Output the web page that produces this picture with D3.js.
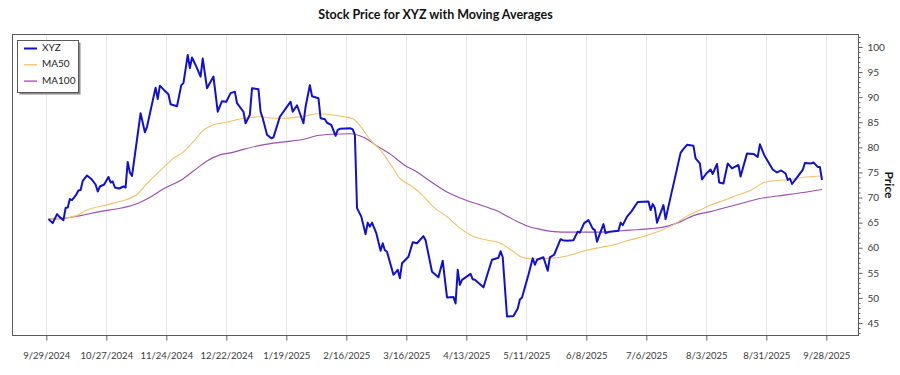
<!DOCTYPE html>
<html>
<head>
<meta charset="utf-8">
<script src="https://cdn.jsdelivr.net/npm/d3@7"></script>
<style>
  html, body { margin: 0; padding: 0; background: #fff; }
  svg { display: block; font-family: Lato, "Open Sans", "Noto Sans", sans-serif; }
</style>
</head>
<body>
<svg id="chart" width="900" height="375"></svg>
<script>
// ---------------- DATA ----------------
const title = "Stock Price for XYZ with Moving Averages";
const yAxisLabel = "Price";
const seriesNames = ["XYZ", "MA50", "MA100"];

const priceDates = ["2024-09-30","2024-10-02","2024-10-04","2024-10-05","2024-10-07","2024-10-08","2024-10-09","2024-10-10","2024-10-11","2024-10-13","2024-10-14","2024-10-15","2024-10-16","2024-10-18","2024-10-20","2024-10-22","2024-10-23","2024-10-24","2024-10-26","2024-10-28","2024-10-29","2024-10-30","2024-10-31","2024-11-02","2024-11-04","2024-11-05","2024-11-06","2024-11-07","2024-11-08","2024-11-12","2024-11-14","2024-11-15","2024-11-19","2024-11-20","2024-11-21","2024-11-23","2024-11-25","2024-11-26","2024-11-29","2024-12-01","2024-12-02","2024-12-04","2024-12-05","2024-12-06","2024-12-08","2024-12-10","2024-12-11","2024-12-13","2024-12-16","2024-12-18","2024-12-20","2024-12-22","2024-12-24","2024-12-26","2024-12-27","2024-12-30","2024-12-31","2025-01-02","2025-01-03","2025-01-06","2025-01-07","2025-01-08","2025-01-10","2025-01-12","2025-01-13","2025-01-16","2025-01-21","2025-01-22","2025-01-24","2025-01-27","2025-01-28","2025-01-30","2025-01-31","2025-02-03","2025-02-04","2025-02-06","2025-02-07","2025-02-09","2025-02-11","2025-02-12","2025-02-13","2025-02-18","2025-02-19","2025-02-20","2025-02-21","2025-02-23","2025-02-25","2025-02-26","2025-02-27","2025-02-28","2025-03-02","2025-03-04","2025-03-05","2025-03-06","2025-03-07","2025-03-10","2025-03-12","2025-03-13","2025-03-14","2025-03-17","2025-03-19","2025-03-21","2025-03-24","2025-03-25","2025-03-28","2025-03-31","2025-04-02","2025-04-04","2025-04-07","2025-04-08","2025-04-09","2025-04-10","2025-04-11","2025-04-15","2025-04-16","2025-04-17","2025-04-21","2025-04-23","2025-04-25","2025-04-28","2025-04-29","2025-04-30","2025-05-02","2025-05-05","2025-05-07","2025-05-08","2025-05-09","2025-05-12","2025-05-14","2025-05-15","2025-05-16","2025-05-19","2025-05-21","2025-05-22","2025-05-24","2025-05-27","2025-05-28","2025-05-30","2025-06-02","2025-06-04","2025-06-05","2025-06-07","2025-06-09","2025-06-11","2025-06-12","2025-06-13","2025-06-16","2025-06-17","2025-06-19","2025-06-23","2025-06-24","2025-06-25","2025-06-27","2025-06-29","2025-07-02","2025-07-07","2025-07-08","2025-07-09","2025-07-10","2025-07-11","2025-07-14","2025-07-15","2025-07-22","2025-07-23","2025-07-25","2025-07-28","2025-07-29","2025-07-31","2025-08-01","2025-08-03","2025-08-05","2025-08-06","2025-08-08","2025-08-09","2025-08-11","2025-08-13","2025-08-15","2025-08-18","2025-08-19","2025-08-22","2025-08-25","2025-08-27","2025-08-28","2025-08-30","2025-09-03","2025-09-05","2025-09-07","2025-09-09","2025-09-10","2025-09-11","2025-09-12","2025-09-14","2025-09-17","2025-09-18","2025-09-21","2025-09-22","2025-09-24","2025-09-25","2025-09-26"];
const priceValues = [65.7,64.9,66.7,66.2,65.5,67.9,68.0,69.7,69.5,70.6,71.4,71.5,73.3,74.4,73.7,72.6,71.2,72.2,72.6,74.1,73.0,73.2,72.0,71.8,72.2,72.0,77.1,75.0,74.3,86.8,83.0,84.1,91.9,89.6,92.3,91.4,90.6,88.6,88.2,92.4,92.8,98.4,95.8,97.9,96.1,94.1,97.7,91.8,94.1,87.1,89.2,89.1,90.8,91.1,88.8,87.1,84.8,86.5,91.8,91.6,87.1,85.8,82.5,81.8,82.0,86.1,89.1,87.1,88.4,84.8,88.1,92.4,90.2,89.8,85.8,85.6,84.9,84.5,82.3,83.5,83.7,83.8,83.6,82.5,67.9,66.2,62.7,65.0,64.2,65.0,62.9,59.4,60.9,59.5,59.2,54.6,55.6,53.9,56.9,58.2,61.1,60.9,62.3,61.5,55.2,54.1,57.4,50.1,50.2,48.9,55.6,52.6,53.6,54.8,53.7,53.6,52.1,54.9,57.6,58.0,59.3,58.1,46.3,46.4,47.9,49.7,50.1,54.6,57.9,56.6,57.6,58.1,55.4,58.1,58.6,61.7,61.5,61.4,61.5,63.2,63.0,64.9,65.5,63.8,63.5,61.2,64.7,62.9,63.2,63.4,65.0,64.5,66.2,67.2,69.1,69.2,67.5,68.7,67.9,65.0,68.5,65.7,78.9,79.5,80.5,80.3,77.8,76.8,73.6,74.8,75.6,74.7,76.7,73.0,72.8,76.8,75.8,76.5,74.2,78.8,78.7,78.1,80.6,78.5,75.6,75.0,75.4,74.8,73.5,73.8,72.7,73.8,75.5,76.9,76.8,77.0,76.1,76.1,73.5];

const ma50Dates = ["2024-09-30","2024-10-08","2024-10-13","2024-10-18","2024-10-27","2024-11-03","2024-11-10","2024-11-15","2024-11-23","2024-11-27","2024-12-02","2024-12-07","2024-12-11","2024-12-16","2024-12-22","2024-12-29","2025-01-07","2025-01-13","2025-01-19","2025-01-27","2025-02-03","2025-02-09","2025-02-15","2025-02-19","2025-02-23","2025-02-27","2025-03-04","2025-03-09","2025-03-13","2025-03-18","2025-03-23","2025-03-29","2025-04-04","2025-04-10","2025-04-16","2025-04-23","2025-04-29","2025-05-05","2025-05-09","2025-05-13","2025-05-18","2025-05-22","2025-05-27","2025-06-02","2025-06-08","2025-06-15","2025-06-21","2025-06-27","2025-07-05","2025-07-13","2025-07-20","2025-07-25","2025-07-31","2025-08-05","2025-08-11","2025-08-17","2025-08-24","2025-08-30","2025-09-05","2025-09-11","2025-09-17","2025-09-26"];
const ma50Values = [65.7,65.9,66.4,67.5,68.5,69.3,70.5,72.8,76.1,77.7,79.1,81.3,83.3,84.5,85.0,85.7,86.1,85.8,85.8,86.2,86.7,86.5,86.1,85.7,84.0,81.6,79.4,76.4,73.8,72.4,70.7,68.0,66.2,63.9,62.3,61.5,60.9,59.2,58.1,57.8,57.8,57.9,58.1,58.7,59.5,60.1,60.6,61.4,62.3,63.5,64.9,66.3,67.5,68.5,69.4,70.4,71.5,73.0,73.4,73.6,74.0,74.3];

const ma100Dates = ["2024-09-30","2024-10-08","2024-10-15","2024-10-24","2024-11-03","2024-11-10","2024-11-17","2024-11-23","2024-12-01","2024-12-07","2024-12-13","2024-12-19","2024-12-24","2024-12-30","2025-01-08","2025-01-18","2025-01-27","2025-02-02","2025-02-09","2025-02-18","2025-02-24","2025-03-02","2025-03-09","2025-03-15","2025-03-21","2025-03-27","2025-04-04","2025-04-12","2025-04-19","2025-04-27","2025-05-05","2025-05-11","2025-05-17","2025-05-24","2025-05-31","2025-06-11","2025-06-19","2025-06-28","2025-07-08","2025-07-16","2025-07-22","2025-07-28","2025-08-05","2025-08-13","2025-08-20","2025-08-28","2025-09-05","2025-09-14","2025-09-26"];
const ma100Values = [65.7,65.9,66.4,67.2,67.9,68.7,70.2,71.8,73.5,75.4,77.3,78.5,78.9,79.6,80.5,81.1,81.6,82.3,82.6,82.7,82.0,80.4,78.5,76.5,75.1,73.3,71.1,69.6,68.6,67.4,65.6,64.4,63.7,63.2,63.1,63.1,63.2,63.5,63.8,64.3,65.2,66.4,67.2,68.1,68.9,69.8,70.3,70.8,71.6];

const xTickLabels = ["9/29/2024","10/27/2024","11/24/2024","12/22/2024","1/19/2025","2/16/2025","3/16/2025","4/13/2025","5/11/2025","6/8/2025","7/6/2025","8/3/2025","8/31/2025","9/28/2025"];
const yTickValues = [45,50,55,60,65,70,75,80,85,90,95,100];

// ---------------- LAYOUT ----------------
const colors = { XYZ: "#1010d4", MA50: "#f5bf63", MA100: "#9a4db0" };
const frame = { left: 12.5, right: 858.5, top: 34.5, bottom: 335.5 };
const svg = d3.select("#chart");
const parse = d3.timeParse("%Y-%m-%d");
const parseTick = d3.timeParse("%m/%d/%Y");

const tickDates = xTickLabels.map(parseTick);
const x = d3.scaleTime()
  .domain([tickDates[0], tickDates[tickDates.length - 1]])
  .range([46.3, 826.3]);
const y = d3.scaleLinear().domain([45, 100]).range([323, 47]);

svg.append("rect").attr("width", 900).attr("height", 375).attr("fill", "#fff");

// vertical grid lines
svg.append("g").selectAll("line").data(tickDates).join("line")
  .attr("x1", d => Math.round(x(d)) + 0.5).attr("x2", d => Math.round(x(d)) + 0.5)
  .attr("y1", frame.top).attr("y2", frame.bottom)
  .attr("stroke", "#e6e6e6").attr("stroke-width", 1);

// series
function series(dates, values) {
  return dates.map((d, i) => ({ date: parse(d), value: values[i] })).filter(p => p.value != null);
}
const priceData = series(priceDates, priceValues);
const ma50Data = series(ma50Dates, ma50Values);
const ma100Data = series(ma100Dates, ma100Values);

const lineStraight = d3.line().x(d => x(d.date)).y(d => y(d.value));
const lineSmooth = d3.line().x(d => x(d.date)).y(d => y(d.value)).curve(d3.curveMonotoneX);

svg.append("path").datum(ma100Data).attr("d", lineSmooth)
  .attr("fill", "none").attr("stroke", colors.MA100).attr("stroke-width", 1.1);
svg.append("path").datum(ma50Data).attr("d", lineSmooth)
  .attr("fill", "none").attr("stroke", colors.MA50).attr("stroke-width", 1.1);
svg.append("path").datum(priceData).attr("d", lineStraight)
  .attr("fill", "none").attr("stroke", colors.XYZ).attr("stroke-width", 2)
  .attr("stroke-linejoin", "round");

// frame
svg.append("rect")
  .attr("x", frame.left).attr("y", frame.top)
  .attr("width", frame.right - frame.left).attr("height", frame.bottom - frame.top)
  .attr("fill", "none").attr("stroke", "#5a5a5a").attr("stroke-width", 1);

// x axis
const xAxis = d3.axisBottom(x).tickValues(tickDates)
  .tickFormat((d, i) => xTickLabels[i]).tickSize(5).tickPadding(12);
const gx = svg.append("g").attr("transform", `translate(0,${frame.bottom})`).call(xAxis);
gx.select(".domain").remove();
gx.selectAll(".tick line").attr("stroke", "#5a5a5a");
gx.selectAll(".tick text").attr("fill", "#3a3a3a").attr("font-size", 9.5)
  .attr("font-family", "Lato, 'Open Sans', sans-serif");

// y axis (right) minor ticks
const minorVals = d3.range(43, 103).filter(v => v % 5 !== 0 && y(v) >= frame.top && y(v) <= frame.bottom);
const yMinor = d3.axisRight(y).tickValues(minorVals).tickSize(2).tickFormat("");
const gyMinor = svg.append("g").attr("transform", `translate(${frame.right},0)`).call(yMinor);
gyMinor.select(".domain").remove();
gyMinor.selectAll(".tick line").attr("stroke", "#5a5a5a");

const yAxis = d3.axisRight(y).tickValues(yTickValues).tickSize(4).tickPadding(5);
const gy = svg.append("g").attr("transform", `translate(${frame.right},0)`).call(yAxis);
gy.select(".domain").remove();
gy.selectAll(".tick line").attr("stroke", "#5a5a5a");
gy.selectAll(".tick text").attr("fill", "#3a3a3a").attr("font-size", 10)
  .attr("font-family", "Lato, 'Open Sans', sans-serif");

// axis title
svg.append("text")
  .attr("transform", `translate(888,${(frame.top + frame.bottom) / 2}) rotate(90)`)
  .attr("text-anchor", "middle").attr("dominant-baseline", "middle")
  .attr("font-size", 12).attr("font-weight", "bold").attr("fill", "#111")
  .text(yAxisLabel);

// title
svg.append("text")
  .attr("x", (frame.left + frame.right) / 2).attr("y", 19)
  .attr("text-anchor", "middle").attr("font-size", 12.5).attr("font-weight", "bold")
  .attr("fill", "#111").text(title);

// legend
const lg = svg.append("g");
lg.append("rect").attr("x", 19.5).attr("y", 42.5).attr("width", 61).attr("height", 52)
  .attr("fill", "#8a8a8a");
lg.append("rect").attr("x", 17.5).attr("y", 40.5).attr("width", 61).attr("height", 52)
  .attr("fill", "#fff").attr("stroke", "#5a5a5a").attr("stroke-width", 1);
seriesNames.forEach((name, i) => {
  const yy = 48.5 + i * 16.3;
  lg.append("line").attr("x1", 24).attr("x2", 37).attr("y1", yy).attr("y2", yy)
    .attr("stroke", colors[name]).attr("stroke-width", name === "XYZ" ? 2 : 1.3);
  lg.append("text").attr("x", 42).attr("y", yy).attr("dominant-baseline", "middle")
    .attr("font-size", 10).attr("fill", "#222").text(name);
});
</script>
</body>
</html>
